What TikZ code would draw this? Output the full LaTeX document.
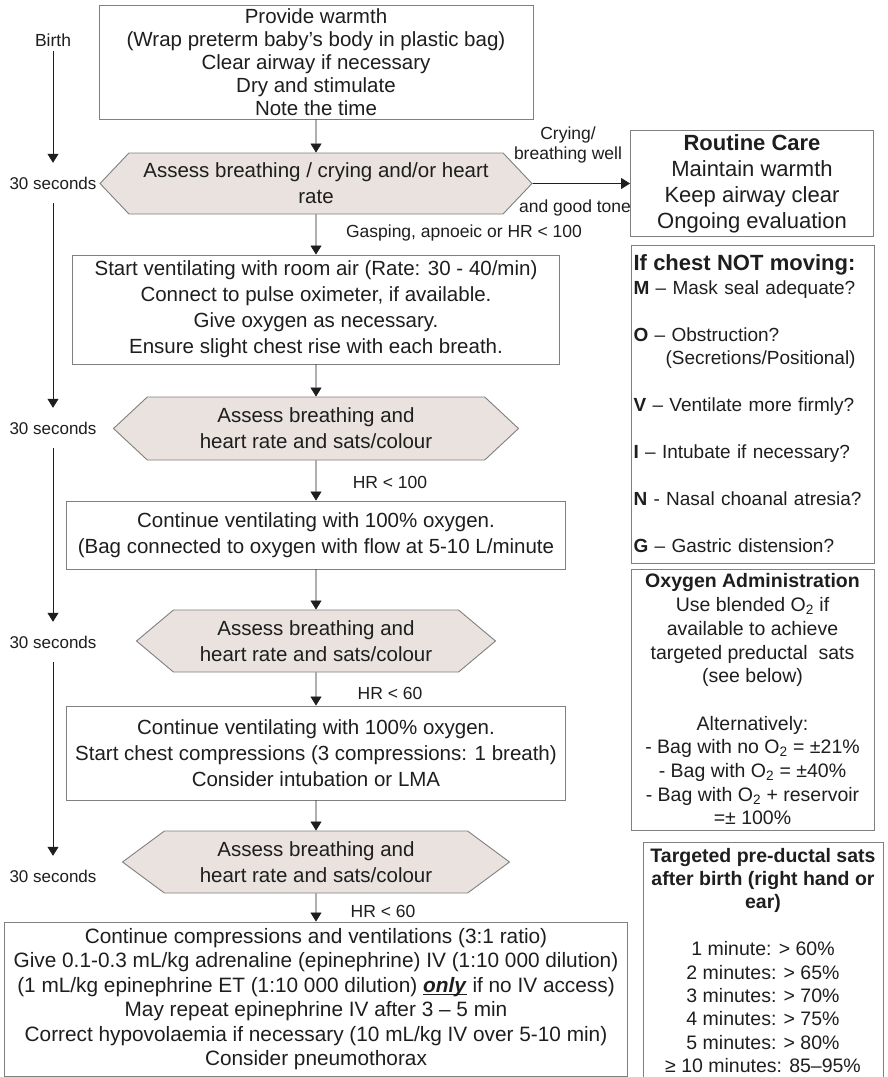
\documentclass[tikz,border=0pt]{standalone}
\usepackage{fontspec}
\setmainfont{Liberation Sans}
\usetikzlibrary{arrows.meta,shapes.symbols}
\definecolor{boxgrey}{RGB}{128,128,128}
\definecolor{hexfill}{RGB}{233,226,222}
\definecolor{inkgrey}{RGB}{30,30,30}
\newcommand{\tightul}[1]{\setbox0\hbox{#1}\rlap{\rule[-2.6pt]{\wd0}{1pt}}\box0\relax}

\tikzset{
  stepbox/.style={draw=boxgrey, line width=0.9pt, align=center, inner sep=0pt, text=inkgrey,
    font=\fontsize{20.5}{26}\selectfont},
  assess/.style={signal, signal to=west and east, draw=boxgrey, fill=hexfill, line width=0.9pt,
    align=center, inner sep=0pt, text=inkgrey, font=\fontsize{20.5}{26}\selectfont},
  sidebox/.style={draw=boxgrey, line width=0.9pt, inner sep=0pt, text=inkgrey},
  flow/.style={draw=inkgrey, line width=0.8pt, -{Triangle[length=9pt,width=11pt]}},
  tlabel/.style={font=\fontsize{17}{20}\selectfont, text=inkgrey, inner sep=0pt, minimum height=40pt},
  cond/.style={font=\fontsize{17.5}{20}\selectfont, text=inkgrey, inner sep=0pt}
}

\begin{document}
\begin{tikzpicture}[x=1pt, y=-1pt]
            \path[use as bounding box, fill=white] (0,0) rectangle (887,1077);

            % Time line on the left
            \node[cond] (birth) at (53,40) {Birth};
            \node[tlabel] (secA) at (53,183) {30 seconds};
            \node[tlabel] (secB) at (53,428) {30 seconds};
            \node[tlabel] (secC) at (53,642) {30 seconds};
            \node[tlabel] (secD) at (53,876) {30 seconds};
            \draw[flow, shorten <=4pt] (birth) -- (secA);
            \draw[flow] (secA) -- (secB);
            \draw[flow] (secB) -- (secC);
            \draw[flow] (secC) -- (secD);

            % Initial steps
            \node[stepbox, minimum width=434pt, minimum height=114pt, font=\fontsize{20.5}{23}\selectfont] (warm) at (316,62) {
                Provide warmth\\
                (Wrap preterm baby's body in plastic bag)\\
                Clear airway if necessary\\
                Dry and stimulate\\
                Note the time
            };
            \node[assess, minimum width=432pt, minimum height=61pt, signal pointer angle=93] (assessA) at (316,183.5) {
                Assess breathing / crying and/or heart\\rate
            };

            % Routine care
            \node[sidebox, minimum width=243pt, minimum height=106pt, align=center, font=\fontsize{22}{26}\selectfont] (routine) at (752,183.5) {
                \textbf{Routine Care}\\
                Maintain warmth\\
                Keep airway clear\\
                Ongoing evaluation
            };
            \draw[flow] (assessA) -- (routine);
            \node[cond, align=center] (cry) at (568,145) {Crying/\\breathing well};
            \node[cond] (tone) at (575,208) {and good tone};

            % Ventilation
            \node[cond] (gasp) at (464,233) {Gasping, apnoeic or HR < 100};
            \node[stepbox, minimum width=487pt, minimum height=109pt] (ventA) at (316,309.5) {
                Start ventilating with room air (Rate: 30 - 40/min)\\
                Connect to pulse oximeter, if available.\\
                Give oxygen as necessary.\\
                Ensure slight chest rise with each breath.
            };
            \node[assess, minimum width=405pt, minimum height=63pt, signal pointer angle=86] (assessB) at (316,428.5) {
                Assess breathing  and\\heart rate and sats/colour
            };
            \node[cond] (hrA) at (390,482) {HR < 100};
            \node[stepbox, minimum width=499pt, minimum height=68pt] (ventB) at (316,535) {
                Continue ventilating with 100\% oxygen.\\
                (Bag connected to oxygen with flow at 5-10 L/minute
            };
            \node[assess, minimum width=359pt, minimum height=62pt, signal pointer angle=80] (assessC) at (316,641) {
                Assess breathing  and\\heart rate and sats/colour
            };

            % Compressions
            \node[cond] (hrB) at (390,693) {HR < 60};
            \node[stepbox, minimum width=499pt, minimum height=94pt] (compress) at (316,753) {
                Continue ventilating with 100\% oxygen.\\
                Start chest compressions (3 compressions: 1 breath)\\
                Consider intubation or LMA
            };
            \node[assess, minimum width=387pt, minimum height=62pt, signal pointer angle=73] (assessD) at (316,862) {
                Assess breathing  and\\heart rate and sats/colour
            };

            % Drugs
            \node[cond] (hrC) at (383,911) {HR < 60};
            \node[stepbox, minimum width=623pt, minimum height=154pt, font=\fontsize{20.8}{24.5}\selectfont] (drugs) at (316,999) {
                Continue compressions and ventilations (3:1 ratio)\\
                Give 0.1-0.3 mL/kg adrenaline (epinephrine) IV (1:10 000 dilution)\\
                (1 mL/kg epinephrine ET (1:10 000 dilution) \tightul{\textbf{\textit{only}}} if no IV access)\\
                May repeat epinephrine IV after 3 – 5 min\\
                Correct hypovolaemia if necessary (10 mL/kg IV over 5-10 min)\\
                Consider pneumothorax
            };

            % Arrows down the middle
            \draw[flow] (warm) -- (assessA);
            \draw[flow] (assessA) -- (ventA);
            \draw[flow] (ventA) -- (assessB);
            \draw[flow] (assessB) -- (ventB);
            \draw[flow] (ventB) -- (assessC);
            \draw[flow] (assessC) -- (compress);
            \draw[flow] (compress) -- (assessD);
            \draw[flow] (assessD) -- (drugs);

            % Boxes on the right
            \node[sidebox, minimum width=243pt, minimum height=318pt, text width=238pt, align=left, font=\fontsize{19}{23.5}\selectfont] (mnemonic) at (752.5,404) {
                {\fontsize{22}{23.5}\selectfont\textbf{If chest NOT moving:}}\\
                \textbf{M} – Mask seal adequate?\\[23.5pt]
                \textbf{O} – Obstruction?\\
                \hspace*{32pt}(Secretions/Positional)\\[23.5pt]
                \textbf{V} – Ventilate more firmly?\\[23.5pt]
                \textbf{I} – Intubate if necessary?\\[23.5pt]
                \textbf{N} - Nasal choanal atresia?\\[23.5pt]
                \textbf{G} – Gastric distension?
            };
            \node[sidebox, minimum width=243pt, minimum height=261pt, align=center, font=\fontsize{19.5}{23.7}\selectfont] (oxygen) at (752.5,699.5) {
                \textbf{Oxygen Administration}\\
                Use blended O\textsubscript{2} if\\
                available to achieve\\
                targeted preductal\ \ sats\\
                (see below)\\[23.7pt]
                Alternatively:\\
                - Bag with no O\textsubscript{2} = ±21\%\\
                - Bag with O\textsubscript{2} = ±40\%\\
                - Bag with O\textsubscript{2} + reservoir\\
                =± 100\%
            };
            \node[sidebox, minimum width=240pt, minimum height=236pt, align=center, font=\fontsize{19.5}{23.4}\selectfont] (targets) at (763,960.5) {
                \textbf{Targeted pre-ductal sats}\\
                \textbf{after birth (right hand or}\\
                \textbf{ear)}\\[23.4pt]
                1 minute: > 60\%\\
                2 minutes: > 65\%\\
                3 minutes: > 70\%\\
                4 minutes: > 75\%\\
                5 minutes: > 80\%\\
                ≥ 10 minutes: 85–95\%
            };
        \end{tikzpicture}
\end{document}
